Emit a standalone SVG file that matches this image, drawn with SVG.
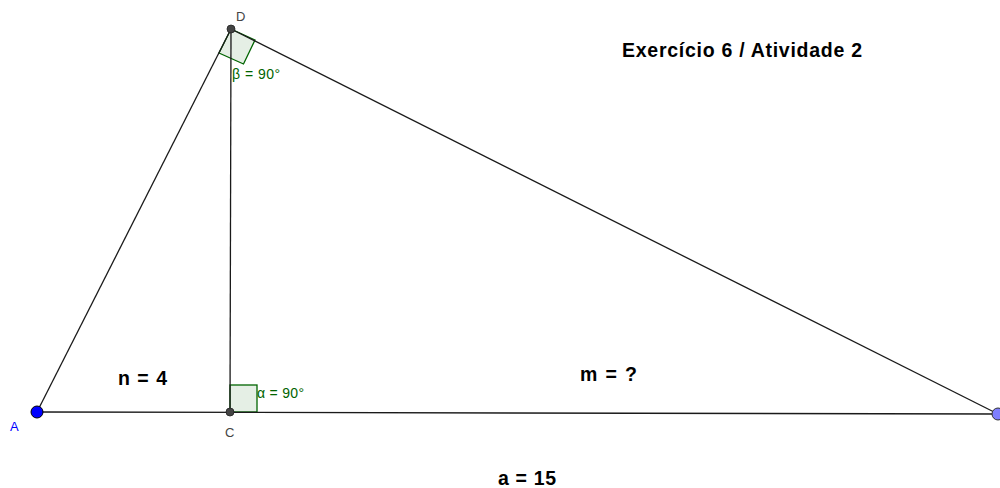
<svg xmlns="http://www.w3.org/2000/svg" width="1000" height="488" viewBox="0 0 1000 488">
<style>
.seg{stroke:#1a1a1a;stroke-width:1.3;fill:none}
.ang{fill:#006400;fill-opacity:0.1;stroke:#006400;stroke-width:1.3}
.angt{font-family:"Liberation Sans",Arial,sans-serif;font-size:14px;fill:#006400}
.lbl{font-family:"Liberation Sans",Arial,sans-serif;font-size:13px;fill:#444}
.big{font-family:"Liberation Sans",Arial,sans-serif;font-size:19.5px;font-weight:bold;fill:#000}
</style>
<rect width="1000" height="488" fill="#fff"/>
<g id="angles">
<polygon class="ang" points="231,29 255,40 243.5,64 219,53"/>
<rect class="ang" x="230" y="385" width="27" height="27"/>
</g>
<g id="connectors">
<line class="seg" x1="37" y1="412" x2="231" y2="29"/>
<line class="seg" x1="231" y1="29" x2="998" y2="414"/>
<line class="seg" x1="37" y1="412" x2="998" y2="414"/>
<line class="seg" x1="231" y1="29" x2="230" y2="412"/>
</g>
<g id="A"><circle cx="37" cy="412" r="6" fill="#0000ff" stroke="#000" stroke-width="1"/><text x="10" y="431" class="lbl" style="fill:#0000ff">A</text></g>
<g id="B"><circle cx="998" cy="414" r="6" fill="#7f7fff" stroke="#333" stroke-width="1"/></g>
<g id="C"><circle cx="230" cy="412" r="4" fill="#444" stroke="#222" stroke-width="0.8"/><text x="225" y="437" class="lbl">C</text></g>
<g id="D"><circle cx="231" cy="29" r="4" fill="#444" stroke="#222" stroke-width="0.8"/><text x="236" y="21" class="lbl">D</text></g>
<g id="labels">
<text x="232" y="79" class="angt" textLength="48" lengthAdjust="spacing">β = 90°</text>
<text x="257" y="398" class="angt" textLength="47" lengthAdjust="spacing">α = 90°</text>
<text x="622" y="57" class="big" textLength="240" lengthAdjust="spacing">Exercício 6 / Atividade 2</text>
<text x="118" y="385" class="big" textLength="49" lengthAdjust="spacing">n = 4</text>
<text x="580" y="381" class="big" textLength="57" lengthAdjust="spacing">m = ?</text>
<text x="498" y="485" class="big" textLength="58" lengthAdjust="spacing">a = 15</text>
</g>
</svg>
